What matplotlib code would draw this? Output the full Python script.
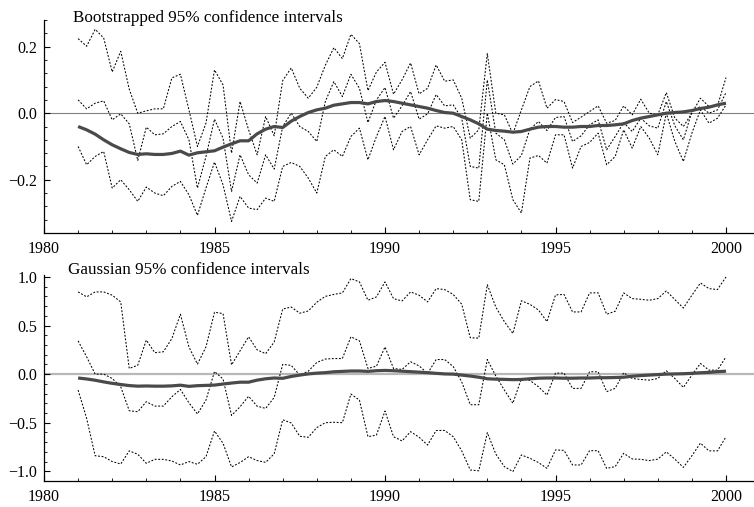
import numpy as np
import matplotlib
matplotlib.use('Agg')
import matplotlib.pyplot as plt
from matplotlib.ticker import MultipleLocator, FuncFormatter

plt.rcParams['font.family'] = ['Liberation Serif', 'DejaVu Serif']

# quarterly dates 1981Q1 .. 2000Q1
years = np.arange(1981, 2000.001, 0.25)

# smoothed estimate (thick line, same in both panels)
trend = [-0.040, -0.050, -0.063, -0.080,
         -0.095, -0.107, -0.118, -0.124,
         -0.122, -0.124, -0.124, -0.121,
         -0.114, -0.126, -0.119, -0.116,
         -0.113, -0.102, -0.092, -0.083,
         -0.083, -0.062, -0.048, -0.040,
         -0.043, -0.024, -0.010, 0.002,
         0.010, 0.015, 0.024, 0.028,
         0.032, 0.032, 0.028, 0.035,
         0.038, 0.035, 0.030, 0.025,
         0.020, 0.015, 0.008, 0.002,
         0.000, -0.010, -0.020, -0.032,
         -0.048, -0.052, -0.054, -0.057,
         -0.055, -0.048, -0.042, -0.040,
         -0.040, -0.042, -0.042, -0.040,
         -0.040, -0.037, -0.037, -0.035,
         -0.032, -0.022, -0.015, -0.010,
         -0.005, 0.000, 0.002, 0.004,
         0.008, 0.014, 0.018, 0.025,
         0.030]

# bootstrapped bands
boot_hi = [0.224, 0.201, 0.252, 0.226,
           0.124, 0.186, 0.072, 0.000,
           0.007, 0.013, 0.013, 0.106,
           0.117, 0.010, -0.100, -0.030,
           0.130, 0.085, -0.120, 0.035,
           -0.050, -0.125, -0.010, -0.068,
           0.098, 0.136, 0.075, 0.045,
           0.078, 0.144, 0.197, 0.164,
           0.237, 0.209, 0.068, 0.124,
           0.153, 0.057, 0.100, 0.151,
           0.058, 0.075, 0.145, 0.096,
           0.100, 0.045, -0.075, -0.050,
           0.179, 0.000, -0.005, -0.062,
           0.010, 0.080, 0.097, 0.015,
           0.041, 0.035, -0.028, -0.012,
           0.005, 0.022, -0.030, -0.022,
           0.022, -0.005, 0.042, 0.000,
           -0.005, 0.062, -0.015, -0.040,
           0.000, 0.045, 0.020, 0.022,
           0.107]
boot_mid = [0.040, 0.013, 0.030, 0.037,
            -0.020, -0.002, -0.032, -0.142,
            -0.042, -0.065, -0.062, -0.040,
            -0.025, -0.080, -0.225, -0.130,
            -0.018, -0.075, -0.235, -0.125,
            -0.185, -0.210, -0.125, -0.168,
            -0.040, 0.000, -0.040, -0.055,
            -0.085, 0.035, 0.095, 0.050,
            0.117, 0.075, -0.028, 0.040,
            0.077, -0.015, 0.022, 0.065,
            -0.018, -0.002, 0.056, 0.022,
            0.025, -0.015, -0.160, -0.165,
            0.100, -0.060, -0.080, -0.153,
            -0.127, -0.048, -0.025, -0.052,
            -0.013, -0.010, -0.085, -0.068,
            -0.035, -0.020, -0.110, -0.070,
            -0.028, -0.055, -0.015, -0.038,
            -0.045, 0.035, -0.038, -0.080,
            0.005, 0.020, 0.000, 0.010,
            0.062]
boot_lo = [-0.100, -0.155, -0.130, -0.115,
           -0.225, -0.200, -0.230, -0.265,
           -0.222, -0.240, -0.248, -0.220,
           -0.205, -0.245, -0.307, -0.225,
           -0.147, -0.215, -0.325, -0.250,
           -0.285, -0.290, -0.255, -0.265,
           -0.160, -0.148, -0.160, -0.195,
           -0.240, -0.130, -0.110, -0.130,
           -0.070, -0.045, -0.140, -0.070,
           -0.010, -0.110, -0.055, -0.040,
           -0.125, -0.080, -0.038, -0.045,
           -0.040, -0.080, -0.260, -0.265,
           0.000, -0.140, -0.155, -0.260,
           -0.300, -0.135, -0.127, -0.150,
           -0.065, -0.065, -0.165, -0.100,
           -0.088, -0.060, -0.155, -0.130,
           -0.050, -0.105, -0.040, -0.075,
           -0.125, 0.000, -0.085, -0.145,
           -0.060, 0.010, -0.030, -0.015,
           0.025]

# gaussian bands
gaus_hi = [0.846, 0.795, 0.846, 0.846,
           0.812, 0.743, 0.058, 0.092,
           0.350, 0.220, 0.230, 0.366,
           0.616, 0.280, 0.103, 0.280,
           0.637, 0.623, 0.095, 0.240,
           0.384, 0.250, 0.210, 0.330,
           0.670, 0.690, 0.627, 0.650,
           0.740, 0.800, 0.820, 0.836,
           0.983, 0.949, 0.760, 0.795,
           0.949, 0.777, 0.753, 0.846,
           0.812, 0.743, 0.880, 0.870,
           0.820, 0.720, 0.375, 0.370,
           0.920, 0.690, 0.540, 0.418,
           0.755, 0.718, 0.660, 0.540,
           0.815, 0.820, 0.640, 0.640,
           0.836, 0.836, 0.616, 0.647,
           0.836, 0.777, 0.770, 0.760,
           0.777, 0.856, 0.767, 0.680,
           0.812, 0.938, 0.880, 0.870,
           1.000]
gaus_mid = [0.342, 0.178, 0.000, 0.000,
            -0.045, -0.130, -0.377, -0.387,
            -0.284, -0.329, -0.329, -0.233,
            -0.158, -0.295, -0.410, -0.267,
            0.027, -0.050, -0.425, -0.336,
            -0.228, -0.330, -0.353, -0.240,
            0.100, 0.090, -0.010, 0.030,
            0.120, 0.155, 0.160, 0.160,
            0.384, 0.342, 0.058, 0.082,
            0.280, 0.058, 0.048, 0.127,
            0.085, 0.007, 0.150, 0.150,
            0.078, -0.080, -0.315, -0.315,
            0.150, -0.020, -0.164, -0.300,
            -0.045, -0.065, -0.130, -0.216,
            0.010, 0.010, -0.147, -0.147,
            0.024, 0.024, -0.180, -0.147,
            0.014, -0.045, -0.055, -0.062,
            -0.045, 0.034, -0.045, -0.137,
            -0.010, 0.110, 0.041, 0.041,
            0.178]
gaus_lo = [-0.164, -0.455, -0.840, -0.850,
           -0.900, -0.925, -0.790, -0.825,
           -0.918, -0.877, -0.877, -0.894,
           -0.935, -0.900, -0.928, -0.850,
           -0.585, -0.712, -0.955, -0.910,
           -0.850, -0.890, -0.908, -0.820,
           -0.470, -0.503, -0.640, -0.650,
           -0.550, -0.500, -0.495, -0.500,
           -0.205, -0.267, -0.644, -0.627,
           -0.380, -0.644, -0.688, -0.592,
           -0.650, -0.730, -0.580, -0.580,
           -0.644, -0.790, -0.986, -0.995,
           -0.603, -0.823, -0.952, -1.003,
           -0.832, -0.866, -0.910, -0.970,
           -0.780, -0.785, -0.935, -0.935,
           -0.788, -0.788, -0.970, -0.952,
           -0.815, -0.873, -0.877, -0.890,
           -0.875, -0.800, -0.875, -0.960,
           -0.840, -0.710, -0.790, -0.790,
           -0.645]

xticks = [1980, 1985, 1990, 1995, 2000]
titles = ['Bootstrapped 95% confidence intervals',
          'Gaussian 95% confidence intervals']

def fmt(v, pos):
    return ('%.1f' % v).replace('-', '\u2212')

fig = plt.figure(figsize=(7.54, 5.07), dpi=100)
ax1 = fig.add_axes([44/754, 1-233/507, 710/754, 213/507])
ax2 = fig.add_axes([44/754, 1-481/507, 710/754, 206/507])

def style(ax, ylim, major, minor, zcol, zlw):
    ax.axhline(0, color=zcol, lw=zlw, zorder=1)
    ax.set_xlim(1980, 1980 + 710/34.1)
    ax.set_ylim(*ylim)
    for s in ['top', 'right']:
        ax.spines[s].set_visible(False)
    for s in ['left', 'bottom']:
        ax.spines[s].set_linewidth(0.9)
    ax.set_xticks(xticks)
    ax.xaxis.set_minor_locator(MultipleLocator(1))
    ax.yaxis.set_major_locator(MultipleLocator(major))
    ax.yaxis.set_minor_locator(MultipleLocator(minor))
    ax.yaxis.set_major_formatter(FuncFormatter(fmt))
    ax.tick_params(which='major', direction='in', length=4.5, width=0.8,
                   labelsize=11.5, pad=6)
    ax.tick_params(which='minor', direction='in', length=2.3, width=0.6)
    ax.tick_params(axis='y', which='both', pad=5)

def draw(ax, hi, mid, lo):
    for band in (hi, mid, lo):
        ax.plot(years, band, color='black', lw=0.75, ls=(0, (1.8, 1.6)), zorder=2)
    ax.plot(years, trend, color='#4a4a4a', lw=2.3, zorder=3, solid_capstyle='butt')

style(ax1, (-0.36, 0.28), 0.2, 0.04, '#808080', 0.8)
draw(ax1, boot_hi, boot_mid, boot_lo)
fig.text(73/754, 1-18/507, titles[0], fontsize=12.3, va='center', ha='left')

style(ax2, (-1.1, 1.02), 0.5, 0.1, '#b8b8b8', 1.6)
draw(ax2, gaus_hi, gaus_mid, gaus_lo)
fig.text(68/754, 1-270/507, titles[1], fontsize=12.3, va='center', ha='left')

fig.savefig('out.png', dpi=100)
